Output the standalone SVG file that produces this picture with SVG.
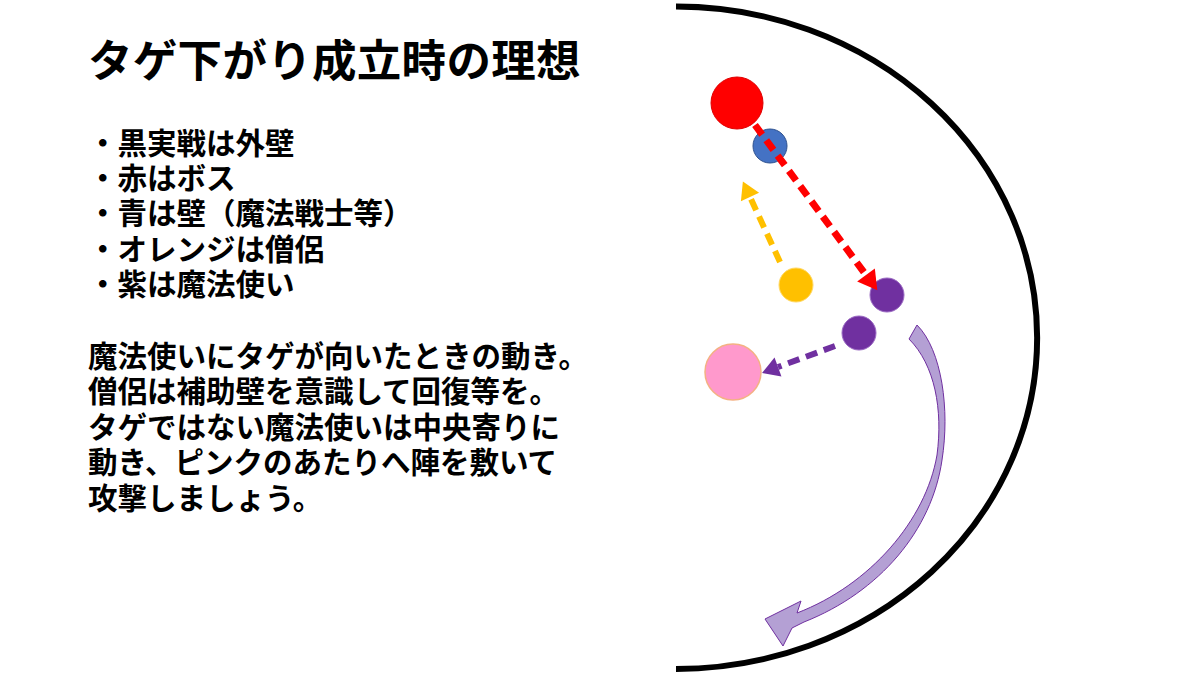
<svg xmlns="http://www.w3.org/2000/svg" width="1200" height="675" viewBox="0 0 1200 675">
<style>
.t{font-family:"Noto Sans CJK JP","Noto Sans CJK SC",sans-serif;font-weight:700;fill:#000}
.title{font-size:44.5px;letter-spacing:0.3px}
.body{font-size:29.5px}
.dash{fill:none;stroke-dasharray:12 7;stroke-linecap:butt}
</style>
<defs>
<marker id="ahRed" markerUnits="userSpaceOnUse" markerWidth="26" markerHeight="26" viewBox="0 -13 20 26" refX="0" refY="0" orient="auto"><path d="M0,-11 L19,0 L0,11 Z" fill="#FF0000"/></marker>
<marker id="ahYel" markerUnits="userSpaceOnUse" markerWidth="24" markerHeight="24" viewBox="0 -12 20 24" refX="0" refY="0" orient="auto"><path d="M0,-10 L17,0 L0,10 Z" fill="#FFC000"/></marker>
<marker id="ahPur" markerUnits="userSpaceOnUse" markerWidth="24" markerHeight="24" viewBox="0 -12 20 24" refX="0" refY="0" orient="auto"><path d="M0,-10 L17,0 L0,10 Z" fill="#7030A0"/></marker>
</defs>
<rect width="1200" height="675" fill="#fff"/>
<g id="title"><text class="t title" x="88" y="77">タゲ下がり成立時の理想</text></g>
<g id="legend">
<text class="t body" x="88" y="154">・黒実戦は外壁</text>
<text class="t body" x="88" y="189">・赤はボス</text>
<text class="t body" x="88" y="224">・青は壁（魔法戦士等）</text>
<text class="t body" x="88" y="260">・オレンジは僧侶</text>
<text class="t body" x="88" y="295">・紫は魔法使い</text>
</g>
<g id="description">
<text class="t body" x="88" y="367">魔法使いにタゲが向いたときの動き。</text>
<text class="t body" x="88" y="402">僧侶は補助壁を意識して回復等を。</text>
<text class="t body" x="88" y="438">タゲではない魔法使いは中央寄りに</text>
<text class="t body" x="88" y="473">動き、ピンクのあたりへ陣を敷いて</text>
<text class="t body" x="88" y="509">攻撃しましょう。</text>
</g>
<g id="arena"><path d="M676,6.5 A361,331 0 0 1 676,669" fill="none" stroke="#000" stroke-width="6"/></g>
<g id="red-boss"><circle cx="737" cy="103" r="26" fill="#FF0000" stroke="#E00000" stroke-width="1"/></g>
<g id="blue-wall"><circle cx="770" cy="146" r="17" fill="#4472C4" stroke="#2F528F" stroke-width="1"/></g>
<g id="orange-priest"><circle cx="796" cy="285" r="17" fill="#FFC000" stroke="#FFD966" stroke-width="1"/></g>
<g id="purple-mage-1"><circle cx="887" cy="295" r="17" fill="#7030A0" stroke="#9C6BC4" stroke-width="1"/></g>
<g id="purple-mage-2"><circle cx="859" cy="333" r="17" fill="#7030A0" stroke="#9C6BC4" stroke-width="1"/></g>
<g id="pink-spot"><circle cx="733" cy="372" r="28" fill="#FF99CC" stroke="#F4B183" stroke-width="1.5"/></g>
<g id="connectors">
<path class="dash" d="M755,125 L866,275" stroke="#FF0000" stroke-width="7" marker-end="url(#ahRed)"/>
<path class="dash" d="M780,262 L750,197" stroke="#FFC000" stroke-width="6" marker-end="url(#ahYel)"/>
<path class="dash" d="M835,346 L778,367" stroke="#7030A0" stroke-width="6" marker-end="url(#ahPur)"/>
<path d="M909,339 L917,325 C942,350 950,410 942,460 C932,530 880,592 804,622 L792,628 L783,646 L765,619 L801,601 L797,613 C870,585 926,520 937,455 C943,410 935,365 909,339 Z" fill="#B4A0D4" stroke="#7030A0" stroke-width="1"/>
</g>
</svg>
